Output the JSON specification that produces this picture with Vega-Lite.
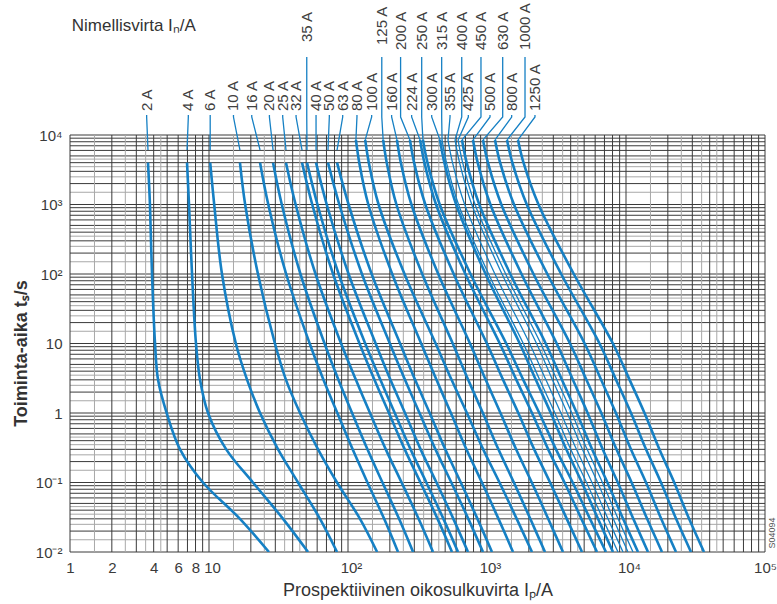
{
  "$schema": "https://vega.github.io/schema/vega-lite/v6.json",
  "width": 695,
  "height": 417,
  "autosize": {"type": "none"},
  "padding": {"left": 70, "top": 135, "right": 12, "bottom": 52},
  "background": "white",
  "config": {"view": {"stroke": null}, "font": "Liberation Sans"},
  "encoding": {
    "x": {
      "field": "I", "type": "quantitative",
      "scale": {"type": "log", "domain": [1, 100000], "nice": false},
      "axis": {
        "values": [1, 2, 4, 6, 8, 10, 100, 1000, 10000, 100000],
        "labelExpr": "datum.value > 50 && datum.value < 200 ? '10²' : datum.value > 500 && datum.value < 2000 ? '10³' : datum.value > 5000 && datum.value < 20000 ? '10⁴' : datum.value > 50000 ? '10⁵' : format(datum.value, 'd')",
        "labelOffset": {"condition": {"test": "datum.value > 9 && datum.value < 50000", "value": 3}, "value": 0},
        "grid": false, "domain": false, "ticks": false,
        "labelFontSize": 15, "labelColor": "#3a3a3a", "labelPadding": 8, "labelFlush": false,
        "title": "Prospektiivinen oikosulkuvirta Iₚ/A", "titleFontSize": 18, "titleFontWeight": "normal", "titleColor": "#333333", "titlePadding": 6
      }
    },
    "y": {
      "field": "t", "type": "quantitative",
      "scale": {"type": "log", "domain": [0.01, 10000], "nice": false},
      "axis": {
        "values": [0.01, 0.1, 1, 10, 100, 1000, 10000],
        "labelExpr": "datum.value < 0.05 ? '10⁻²' : datum.value < 0.5 ? '10⁻¹' : datum.value < 5 ? '1' : datum.value < 50 ? '10' : datum.value < 500 ? '10²' : datum.value < 5000 ? '10³' : '10⁴'",
        "grid": false, "domain": false, "ticks": false,
        "labelFontSize": 15, "labelColor": "#3a3a3a", "labelPadding": 8, "labelFlush": false,
        "title": "Toiminta-aika tₛ/s", "titleFontSize": 18, "titleFontWeight": "bold", "titleColor": "#333333",
        "titleX": -44, "titleY": 218, "titleAlign": "center", "titleBaseline": "alphabetic", "titleAngle": 270
      }
    }
  },
  "datasets": {
    "gx": [
      {"I": 1.5, "k": "b"}, {"I": 2.5, "k": "b"}, {"I": 3.5, "k": "b"}, {"I": 4.5, "k": "b"},
      {"I": 15, "k": "b"}, {"I": 25, "k": "b"}, {"I": 35, "k": "b"}, {"I": 45, "k": "b"},
      {"I": 150, "k": "b"}, {"I": 250, "k": "b"}, {"I": 350, "k": "b"}, {"I": 450, "k": "b"},
      {"I": 1500, "k": "b"}, {"I": 2500, "k": "b"}, {"I": 3500, "k": "b"}, {"I": 4500, "k": "b"},
      {"I": 15000, "k": "b"}, {"I": 25000, "k": "b"}, {"I": 35000, "k": "b"}, {"I": 45000, "k": "b"},
      {"I": 1, "k": "a"}, {"I": 2, "k": "a"}, {"I": 3, "k": "a"}, {"I": 4, "k": "a"}, {"I": 5, "k": "a"}, {"I": 6, "k": "a"}, {"I": 7, "k": "a"}, {"I": 8, "k": "a"}, {"I": 9, "k": "a"},
      {"I": 10, "k": "a"}, {"I": 20, "k": "a"}, {"I": 30, "k": "a"}, {"I": 40, "k": "a"}, {"I": 50, "k": "a"}, {"I": 60, "k": "a"}, {"I": 70, "k": "a"}, {"I": 80, "k": "a"}, {"I": 90, "k": "a"},
      {"I": 100, "k": "a"}, {"I": 200, "k": "a"}, {"I": 300, "k": "a"}, {"I": 400, "k": "a"}, {"I": 500, "k": "a"}, {"I": 600, "k": "a"}, {"I": 700, "k": "a"}, {"I": 800, "k": "a"}, {"I": 900, "k": "a"},
      {"I": 1000, "k": "a"}, {"I": 2000, "k": "a"}, {"I": 3000, "k": "a"}, {"I": 4000, "k": "a"}, {"I": 5000, "k": "a"}, {"I": 6000, "k": "a"}, {"I": 7000, "k": "a"}, {"I": 8000, "k": "a"}, {"I": 9000, "k": "a"},
      {"I": 10000, "k": "a"}, {"I": 20000, "k": "a"}, {"I": 30000, "k": "a"}, {"I": 40000, "k": "a"}, {"I": 50000, "k": "a"}, {"I": 60000, "k": "a"}, {"I": 70000, "k": "a"}, {"I": 80000, "k": "a"}, {"I": 90000, "k": "a"},
      {"I": 100000, "k": "a"}
    ],
    "gy": [
      {"t": 0.015, "k": "b"}, {"t": 0.025, "k": "b"}, {"t": 0.035, "k": "b"}, {"t": 0.045, "k": "b"},
      {"t": 0.15, "k": "b"}, {"t": 0.25, "k": "b"}, {"t": 0.35, "k": "b"}, {"t": 0.45, "k": "b"},
      {"t": 1.5, "k": "b"}, {"t": 2.5, "k": "b"}, {"t": 3.5, "k": "b"}, {"t": 4.5, "k": "b"},
      {"t": 15, "k": "b"}, {"t": 25, "k": "b"}, {"t": 35, "k": "b"}, {"t": 45, "k": "b"},
      {"t": 150, "k": "b"}, {"t": 250, "k": "b"}, {"t": 350, "k": "b"}, {"t": 450, "k": "b"},
      {"t": 1500, "k": "b"}, {"t": 2500, "k": "b"}, {"t": 3500, "k": "b"}, {"t": 4500, "k": "b"},
      {"t": 0.01, "k": "a"}, {"t": 0.02, "k": "a"}, {"t": 0.03, "k": "a"}, {"t": 0.04, "k": "a"}, {"t": 0.05, "k": "a"}, {"t": 0.06, "k": "a"}, {"t": 0.07, "k": "a"}, {"t": 0.08, "k": "a"}, {"t": 0.09, "k": "a"},
      {"t": 0.1, "k": "a"}, {"t": 0.2, "k": "a"}, {"t": 0.3, "k": "a"}, {"t": 0.4, "k": "a"}, {"t": 0.5, "k": "a"}, {"t": 0.6, "k": "a"}, {"t": 0.7, "k": "a"}, {"t": 0.8, "k": "a"}, {"t": 0.9, "k": "a"},
      {"t": 1, "k": "a"}, {"t": 2, "k": "a"}, {"t": 3, "k": "a"}, {"t": 4, "k": "a"}, {"t": 5, "k": "a"}, {"t": 6, "k": "a"}, {"t": 7, "k": "a"}, {"t": 8, "k": "a"}, {"t": 9, "k": "a"},
      {"t": 10, "k": "a"}, {"t": 20, "k": "a"}, {"t": 30, "k": "a"}, {"t": 40, "k": "a"}, {"t": 50, "k": "a"}, {"t": 60, "k": "a"}, {"t": 70, "k": "a"}, {"t": 80, "k": "a"}, {"t": 90, "k": "a"},
      {"t": 100, "k": "a"}, {"t": 200, "k": "a"}, {"t": 300, "k": "a"}, {"t": 400, "k": "a"}, {"t": 500, "k": "a"}, {"t": 600, "k": "a"}, {"t": 700, "k": "a"}, {"t": 800, "k": "a"}, {"t": 900, "k": "a"},
      {"t": 1000, "k": "a"}, {"t": 2000, "k": "a"}, {"t": 3000, "k": "a"}, {"t": 4000, "k": "a"}, {"t": 5000, "k": "a"}, {"t": 6000, "k": "a"}, {"t": 7000, "k": "a"}, {"t": 8000, "k": "a"}, {"t": 9000, "k": "a"},
      {"t": 10000, "k": "a"}
    ],
    "curves": [
      {"r": 2, "t": 4000, "I": 3.64}, {"r": 2, "t": 1000, "I": 3.76}, {"r": 2, "t": 100, "I": 3.89}, {"r": 2, "t": 10, "I": 4.09}, {"r": 2, "t": 3, "I": 4.3}, {"r": 2, "t": 1, "I": 4.96}, {"r": 2, "t": 0.3, "I": 6.19}, {"r": 2, "t": 0.1, "I": 9.05}, {"r": 2, "t": 0.03, "I": 16.7}, {"r": 2, "t": 0.01, "I": 27.0},
      {"r": 4, "t": 4000, "I": 6.95}, {"r": 4, "t": 1000, "I": 7.18}, {"r": 4, "t": 100, "I": 7.55}, {"r": 4, "t": 10, "I": 8.06}, {"r": 4, "t": 3, "I": 8.62}, {"r": 4, "t": 1, "I": 9.84}, {"r": 4, "t": 0.3, "I": 13.3}, {"r": 4, "t": 0.1, "I": 20.7}, {"r": 4, "t": 0.03, "I": 34.1}, {"r": 4, "t": 0.01, "I": 51.6},
      {"r": 6, "t": 4000, "I": 10.2}, {"r": 6, "t": 1000, "I": 10.9}, {"r": 6, "t": 100, "I": 12.4}, {"r": 6, "t": 10, "I": 15.6}, {"r": 6, "t": 3, "I": 18.8}, {"r": 6, "t": 1, "I": 23.3}, {"r": 6, "t": 0.3, "I": 31.4}, {"r": 6, "t": 0.1, "I": 43.7}, {"r": 6, "t": 0.03, "I": 62.9}, {"r": 6, "t": 0.01, "I": 83.4},
      {"r": 10, "t": 4000, "I": 16.7}, {"r": 10, "t": 1000, "I": 18.2}, {"r": 10, "t": 100, "I": 22.5}, {"r": 10, "t": 10, "I": 29.8}, {"r": 10, "t": 3, "I": 35.8}, {"r": 10, "t": 1, "I": 45.2}, {"r": 10, "t": 0.3, "I": 60.9}, {"r": 10, "t": 0.1, "I": 83.4}, {"r": 10, "t": 0.03, "I": 122}, {"r": 10, "t": 0.01, "I": 162},
      {"r": 16, "t": 4000, "I": 23.3}, {"r": 16, "t": 1000, "I": 26.7}, {"r": 16, "t": 100, "I": 35.9}, {"r": 16, "t": 10, "I": 53.0}, {"r": 16, "t": 3, "I": 66.6}, {"r": 16, "t": 1, "I": 83.8}, {"r": 16, "t": 0.3, "I": 108}, {"r": 16, "t": 0.1, "I": 138}, {"r": 16, "t": 0.03, "I": 182}, {"r": 16, "t": 0.01, "I": 229},
      {"r": 20, "t": 4000, "I": 28.9}, {"r": 20, "t": 1000, "I": 33.4}, {"r": 20, "t": 100, "I": 45.5}, {"r": 20, "t": 10, "I": 67.8}, {"r": 20, "t": 3, "I": 85.3}, {"r": 20, "t": 1, "I": 107}, {"r": 20, "t": 0.3, "I": 138}, {"r": 20, "t": 0.1, "I": 177}, {"r": 20, "t": 0.03, "I": 233}, {"r": 20, "t": 0.01, "I": 294},
      {"r": 25, "t": 4000, "I": 35.8}, {"r": 25, "t": 1000, "I": 42.0}, {"r": 25, "t": 100, "I": 58.4}, {"r": 25, "t": 10, "I": 89.2}, {"r": 25, "t": 3, "I": 114}, {"r": 25, "t": 1, "I": 144}, {"r": 25, "t": 0.3, "I": 187}, {"r": 25, "t": 0.1, "I": 243}, {"r": 25, "t": 0.03, "I": 322}, {"r": 25, "t": 0.01, "I": 409},
      {"r": 32, "t": 4000, "I": 46.7}, {"r": 32, "t": 1000, "I": 55.3}, {"r": 32, "t": 100, "I": 78.1}, {"r": 32, "t": 10, "I": 121}, {"r": 32, "t": 3, "I": 155}, {"r": 32, "t": 1, "I": 197}, {"r": 32, "t": 0.3, "I": 256}, {"r": 32, "t": 0.1, "I": 332}, {"r": 32, "t": 0.03, "I": 441}, {"r": 32, "t": 0.01, "I": 560},
      {"r": 35, "t": 4000, "I": 50.7}, {"r": 35, "t": 1000, "I": 60.3}, {"r": 35, "t": 100, "I": 85.7}, {"r": 35, "t": 10, "I": 133}, {"r": 35, "t": 3, "I": 171}, {"r": 35, "t": 1, "I": 217}, {"r": 35, "t": 0.3, "I": 282}, {"r": 35, "t": 0.1, "I": 366}, {"r": 35, "t": 0.03, "I": 486}, {"r": 35, "t": 0.01, "I": 619},
      {"r": 40, "t": 4000, "I": 58.9}, {"r": 40, "t": 1000, "I": 70.3}, {"r": 40, "t": 100, "I": 101}, {"r": 40, "t": 10, "I": 158}, {"r": 40, "t": 3, "I": 202}, {"r": 40, "t": 1, "I": 257}, {"r": 40, "t": 0.3, "I": 333}, {"r": 40, "t": 0.1, "I": 433}, {"r": 40, "t": 0.03, "I": 573}, {"r": 40, "t": 0.01, "I": 730},
      {"r": 50, "t": 4000, "I": 71.8}, {"r": 50, "t": 1000, "I": 86.6}, {"r": 50, "t": 100, "I": 126}, {"r": 50, "t": 10, "I": 200}, {"r": 50, "t": 3, "I": 257}, {"r": 50, "t": 1, "I": 327}, {"r": 50, "t": 0.3, "I": 426}, {"r": 50, "t": 0.1, "I": 554}, {"r": 50, "t": 0.03, "I": 734}, {"r": 50, "t": 0.01, "I": 936},
      {"r": 63, "t": 4000, "I": 83.4}, {"r": 63, "t": 1000, "I": 101}, {"r": 63, "t": 100, "I": 148}, {"r": 63, "t": 10, "I": 237}, {"r": 63, "t": 3, "I": 304}, {"r": 63, "t": 1, "I": 387}, {"r": 63, "t": 0.3, "I": 501}, {"r": 63, "t": 0.1, "I": 648}, {"r": 63, "t": 0.03, "I": 854}, {"r": 63, "t": 0.01, "I": 1086},
      {"r": 80, "t": 8500, "I": 114}, {"r": 80, "t": 4000, "I": 120.5}, {"r": 80, "t": 1000, "I": 140}, {"r": 80, "t": 100, "I": 208}, {"r": 80, "t": 10, "I": 336}, {"r": 80, "t": 3, "I": 433}, {"r": 80, "t": 1, "I": 550}, {"r": 80, "t": 0.3, "I": 711}, {"r": 80, "t": 0.1, "I": 919}, {"r": 80, "t": 0.03, "I": 1210}, {"r": 80, "t": 0.01, "I": 1539},
      {"r": 100, "t": 8500, "I": 133}, {"r": 100, "t": 4000, "I": 141.2}, {"r": 100, "t": 1000, "I": 166}, {"r": 100, "t": 100, "I": 255}, {"r": 100, "t": 10, "I": 427}, {"r": 100, "t": 3, "I": 556}, {"r": 100, "t": 1, "I": 717}, {"r": 100, "t": 0.3, "I": 939}, {"r": 100, "t": 0.1, "I": 1230}, {"r": 100, "t": 0.03, "I": 1636}, {"r": 100, "t": 0.01, "I": 2107},
      {"r": 125, "t": 8500, "I": 179}, {"r": 125, "t": 4000, "I": 190.0}, {"r": 125, "t": 1000, "I": 223}, {"r": 125, "t": 100, "I": 342}, {"r": 125, "t": 10, "I": 567}, {"r": 125, "t": 3, "I": 732}, {"r": 125, "t": 1, "I": 934}, {"r": 125, "t": 0.3, "I": 1208}, {"r": 125, "t": 0.1, "I": 1561}, {"r": 125, "t": 0.03, "I": 2048}, {"r": 125, "t": 0.01, "I": 2614},
      {"r": 160, "t": 8500, "I": 225}, {"r": 160, "t": 4000, "I": 240.0}, {"r": 160, "t": 1000, "I": 286}, {"r": 160, "t": 100, "I": 446}, {"r": 160, "t": 10, "I": 755}, {"r": 160, "t": 3, "I": 979}, {"r": 160, "t": 1, "I": 1250}, {"r": 160, "t": 0.3, "I": 1620}, {"r": 160, "t": 0.1, "I": 2100}, {"r": 160, "t": 0.03, "I": 2756}, {"r": 160, "t": 0.01, "I": 3522},
      {"r": 200, "t": 8500, "I": 279}, {"r": 200, "t": 4000, "I": 298.9}, {"r": 200, "t": 1000, "I": 360}, {"r": 200, "t": 100, "I": 576}, {"r": 200, "t": 10, "I": 998}, {"r": 200, "t": 3, "I": 1306}, {"r": 200, "t": 1, "I": 1680}, {"r": 200, "t": 0.3, "I": 2186}, {"r": 200, "t": 0.1, "I": 2844}, {"r": 200, "t": 0.03, "I": 3750}, {"r": 200, "t": 0.01, "I": 4825},
      {"r": 224, "t": 8500, "I": 330}, {"r": 224, "t": 4000, "I": 354.5}, {"r": 224, "t": 1000, "I": 430}, {"r": 224, "t": 100, "I": 699}, {"r": 224, "t": 10, "I": 1236}, {"r": 224, "t": 3, "I": 1627}, {"r": 224, "t": 1, "I": 2107}, {"r": 224, "t": 0.3, "I": 2756}, {"r": 224, "t": 0.1, "I": 3611}, {"r": 224, "t": 0.03, "I": 4777}, {"r": 224, "t": 0.01, "I": 6185},
      {"r": 250, "t": 8500, "I": 346}, {"r": 250, "t": 4000, "I": 373.0}, {"r": 250, "t": 1000, "I": 457}, {"r": 250, "t": 100, "I": 761}, {"r": 250, "t": 10, "I": 1375}, {"r": 250, "t": 3, "I": 1824}, {"r": 250, "t": 1, "I": 2379}, {"r": 250, "t": 0.3, "I": 3136}, {"r": 250, "t": 0.1, "I": 4135}, {"r": 250, "t": 0.03, "I": 5508}, {"r": 250, "t": 0.01, "I": 7179},
      {"r": 300, "t": 8500, "I": 459}, {"r": 300, "t": 4000, "I": 493.4}, {"r": 300, "t": 1000, "I": 600}, {"r": 300, "t": 100, "I": 977}, {"r": 300, "t": 10, "I": 1719}, {"r": 300, "t": 3, "I": 2245}, {"r": 300, "t": 1, "I": 2877}, {"r": 300, "t": 0.3, "I": 3719}, {"r": 300, "t": 0.1, "I": 4816}, {"r": 300, "t": 0.03, "I": 6290}, {"r": 300, "t": 0.01, "I": 8063},
      {"r": 315, "t": 8500, "I": 475}, {"r": 315, "t": 4000, "I": 511.1}, {"r": 315, "t": 1000, "I": 624}, {"r": 315, "t": 100, "I": 1027}, {"r": 315, "t": 10, "I": 1824}, {"r": 315, "t": 3, "I": 2394}, {"r": 315, "t": 1, "I": 3080}, {"r": 315, "t": 0.3, "I": 4001}, {"r": 315, "t": 0.1, "I": 5198}, {"r": 315, "t": 0.03, "I": 6810}, {"r": 315, "t": 0.01, "I": 8758},
      {"r": 355, "t": 8500, "I": 524}, {"r": 355, "t": 4000, "I": 564.7}, {"r": 355, "t": 1000, "I": 691}, {"r": 355, "t": 100, "I": 1140}, {"r": 355, "t": 10, "I": 2025}, {"r": 355, "t": 3, "I": 2653}, {"r": 355, "t": 1, "I": 3402}, {"r": 355, "t": 0.3, "I": 4398}, {"r": 355, "t": 0.1, "I": 5693}, {"r": 355, "t": 0.03, "I": 7421}, {"r": 355, "t": 0.01, "I": 9516},
      {"r": 400, "t": 8500, "I": 589}, {"r": 400, "t": 4000, "I": 634.7}, {"r": 400, "t": 1000, "I": 777}, {"r": 400, "t": 100, "I": 1282}, {"r": 400, "t": 10, "I": 2271}, {"r": 400, "t": 3, "I": 2959}, {"r": 400, "t": 1, "I": 3776}, {"r": 400, "t": 0.3, "I": 4857}, {"r": 400, "t": 0.1, "I": 6248}, {"r": 400, "t": 0.03, "I": 8102}, {"r": 400, "t": 0.01, "I": 10337},
      {"r": 425, "t": 8500, "I": 619}, {"r": 425, "t": 4000, "I": 668.0}, {"r": 425, "t": 1000, "I": 821}, {"r": 425, "t": 100, "I": 1363}, {"r": 425, "t": 10, "I": 2434}, {"r": 425, "t": 3, "I": 3183}, {"r": 425, "t": 1, "I": 4075}, {"r": 425, "t": 0.3, "I": 5250}, {"r": 425, "t": 0.1, "I": 6764}, {"r": 425, "t": 0.03, "I": 8775}, {"r": 425, "t": 0.01, "I": 11231},
      {"r": 450, "t": 8500, "I": 661}, {"r": 450, "t": 4000, "I": 714.3}, {"r": 450, "t": 1000, "I": 880}, {"r": 450, "t": 100, "I": 1471}, {"r": 450, "t": 10, "I": 2644}, {"r": 450, "t": 3, "I": 3458}, {"r": 450, "t": 1, "I": 4426}, {"r": 450, "t": 0.3, "I": 5702}, {"r": 450, "t": 0.1, "I": 7348}, {"r": 450, "t": 0.03, "I": 9531}, {"r": 450, "t": 0.01, "I": 12199},
      {"r": 500, "t": 8500, "I": 793}, {"r": 500, "t": 4000, "I": 857.3}, {"r": 500, "t": 1000, "I": 1058}, {"r": 500, "t": 100, "I": 1771}, {"r": 500, "t": 10, "I": 3172}, {"r": 500, "t": 3, "I": 4149}, {"r": 500, "t": 1, "I": 5293}, {"r": 500, "t": 0.3, "I": 6799}, {"r": 500, "t": 0.1, "I": 8730}, {"r": 500, "t": 0.03, "I": 11286}, {"r": 500, "t": 0.01, "I": 14397},
      {"r": 630, "t": 8500, "I": 936}, {"r": 630, "t": 4000, "I": 1016}, {"r": 630, "t": 1000, "I": 1268}, {"r": 630, "t": 100, "I": 2160}, {"r": 630, "t": 10, "I": 3954}, {"r": 630, "t": 3, "I": 5189}, {"r": 630, "t": 1, "I": 6642}, {"r": 630, "t": 0.3, "I": 8544}, {"r": 630, "t": 0.1, "I": 10972}, {"r": 630, "t": 0.03, "I": 14189}, {"r": 630, "t": 0.01, "I": 18152},
      {"r": 800, "t": 8500, "I": 1142}, {"r": 800, "t": 4000, "I": 1243}, {"r": 800, "t": 1000, "I": 1564}, {"r": 800, "t": 100, "I": 2715}, {"r": 800, "t": 10, "I": 5038}, {"r": 800, "t": 3, "I": 6621}, {"r": 800, "t": 1, "I": 8459}, {"r": 800, "t": 0.3, "I": 10846}, {"r": 800, "t": 0.1, "I": 13934}, {"r": 800, "t": 0.03, "I": 17912}, {"r": 800, "t": 0.01, "I": 22896},
      {"r": 1000, "t": 8500, "I": 1393}, {"r": 1000, "t": 4000, "I": 1522}, {"r": 1000, "t": 1000, "I": 1933}, {"r": 1000, "t": 100, "I": 3418}, {"r": 1000, "t": 10, "I": 6448}, {"r": 1000, "t": 3, "I": 8488}, {"r": 1000, "t": 1, "I": 10864}, {"r": 1000, "t": 0.3, "I": 13934}, {"r": 1000, "t": 0.1, "I": 17855}, {"r": 1000, "t": 0.03, "I": 22932}, {"r": 1000, "t": 0.01, "I": 29347},
      {"r": 1250, "t": 8500, "I": 1671}, {"r": 1250, "t": 4000, "I": 1831}, {"r": 1250, "t": 1000, "I": 2347}, {"r": 1250, "t": 100, "I": 4212}, {"r": 1250, "t": 10, "I": 8049}, {"r": 1250, "t": 3, "I": 10615}, {"r": 1250, "t": 1, "I": 13587}, {"r": 1250, "t": 0.3, "I": 17387}, {"r": 1250, "t": 0.1, "I": 22227}, {"r": 1250, "t": 0.03, "I": 28442}, {"r": 1250, "t": 0.01, "I": 36410}
    ],
    "labels": [
      {"lab": "2 A", "I": 3.56, "t": 22100}, {"lab": "4 A", "I": 7.1, "t": 22100}, {"lab": "6 A", "I": 10.2, "t": 22100},
      {"lab": "10 A", "I": 15.0, "t": 22100}, {"lab": "16 A", "I": 20.3, "t": 22100}, {"lab": "20 A", "I": 27.2, "t": 22100},
      {"lab": "25 A", "I": 33.9, "t": 22100}, {"lab": "32 A", "I": 42.3, "t": 22100}, {"lab": "40 A", "I": 58.9, "t": 22100},
      {"lab": "50 A", "I": 73.4, "t": 22100}, {"lab": "63 A", "I": 91.6, "t": 22100}, {"lab": "80 A", "I": 116, "t": 22100},
      {"lab": "100 A", "I": 148, "t": 22100}, {"lab": "160 A", "I": 206, "t": 22100}, {"lab": "224 A", "I": 287, "t": 22100},
      {"lab": "300 A", "I": 400, "t": 22100}, {"lab": "355 A", "I": 542, "t": 22100}, {"lab": "425 A", "I": 734, "t": 22100},
      {"lab": "500 A", "I": 1051, "t": 22100}, {"lab": "800 A", "I": 1505, "t": 22100}, {"lab": "1250 A", "I": 2214, "t": 22100},
      {"lab": "35 A", "I": 50.5, "t": 218000}, {"lab": "125 A", "I": 175, "t": 197000}, {"lab": "200 A", "I": 239, "t": 167000},
      {"lab": "250 A", "I": 339, "t": 167000}, {"lab": "315 A", "I": 472, "t": 167000}, {"lab": "400 A", "I": 658, "t": 167000},
      {"lab": "450 A", "I": 905, "t": 167000}, {"lab": "630 A", "I": 1297, "t": 167000}, {"lab": "1000 A", "I": 1877, "t": 167000}
    ],
    "leaders": [
      {"r": 2, "s": 0, "I": 3.56, "t": 19400}, {"r": 2, "s": 1, "I": 3.56, "t": 18150}, {"r": 2, "s": 2, "I": 3.64, "t": 6080},
      {"r": 4, "s": 0, "I": 7.1, "t": 19400}, {"r": 4, "s": 1, "I": 7.1, "t": 18150}, {"r": 4, "s": 2, "I": 6.95, "t": 6080},
      {"r": 6, "s": 0, "I": 10.2, "t": 19400}, {"r": 6, "s": 1, "I": 10.2, "t": 18150}, {"r": 6, "s": 2, "I": 10.2, "t": 6080},
      {"r": 10, "s": 0, "I": 15.0, "t": 19400}, {"r": 10, "s": 1, "I": 15.0, "t": 18150}, {"r": 10, "s": 2, "I": 16.7, "t": 6080},
      {"r": 16, "s": 0, "I": 20.3, "t": 19400}, {"r": 16, "s": 1, "I": 20.3, "t": 18150}, {"r": 16, "s": 2, "I": 23.3, "t": 6080},
      {"r": 20, "s": 0, "I": 27.2, "t": 19400}, {"r": 20, "s": 1, "I": 27.2, "t": 18150}, {"r": 20, "s": 2, "I": 28.9, "t": 6080},
      {"r": 25, "s": 0, "I": 33.9, "t": 19400}, {"r": 25, "s": 1, "I": 33.9, "t": 18150}, {"r": 25, "s": 2, "I": 35.8, "t": 6080},
      {"r": 32, "s": 0, "I": 42.3, "t": 19400}, {"r": 32, "s": 1, "I": 42.3, "t": 18150}, {"r": 32, "s": 2, "I": 46.7, "t": 6080},
      {"r": 35, "s": 0, "I": 50.5, "t": 132600}, {"r": 35, "s": 1, "I": 50.5, "t": 18150}, {"r": 35, "s": 2, "I": 50.7, "t": 6080},
      {"r": 40, "s": 0, "I": 58.9, "t": 19400}, {"r": 40, "s": 1, "I": 58.9, "t": 18150}, {"r": 40, "s": 2, "I": 58.9, "t": 6080},
      {"r": 50, "s": 0, "I": 73.4, "t": 19400}, {"r": 50, "s": 1, "I": 73.4, "t": 18150}, {"r": 50, "s": 2, "I": 71.8, "t": 6080},
      {"r": 63, "s": 0, "I": 91.6, "t": 19400}, {"r": 63, "s": 1, "I": 91.6, "t": 18150}, {"r": 63, "s": 2, "I": 83.4, "t": 6080},
      {"r": 80, "s": 0, "I": 116, "t": 19400}, {"r": 80, "s": 1, "I": 116, "t": 18150}, {"r": 80, "s": 2, "I": 114, "t": 8500},
      {"r": 100, "s": 0, "I": 148, "t": 19400}, {"r": 100, "s": 1, "I": 148, "t": 18150}, {"r": 100, "s": 2, "I": 133, "t": 8500},
      {"r": 125, "s": 0, "I": 175, "t": 132600}, {"r": 125, "s": 1, "I": 175, "t": 18150}, {"r": 125, "s": 2, "I": 179, "t": 8500},
      {"r": 160, "s": 0, "I": 206, "t": 19400}, {"r": 160, "s": 1, "I": 206, "t": 18150}, {"r": 160, "s": 2, "I": 225, "t": 8500},
      {"r": 200, "s": 0, "I": 239, "t": 132600}, {"r": 200, "s": 1, "I": 239, "t": 18150}, {"r": 200, "s": 2, "I": 279, "t": 8500},
      {"r": 224, "s": 0, "I": 287, "t": 19400}, {"r": 224, "s": 1, "I": 287, "t": 18150}, {"r": 224, "s": 2, "I": 330, "t": 8500},
      {"r": 250, "s": 0, "I": 339, "t": 132600}, {"r": 250, "s": 1, "I": 339, "t": 18150}, {"r": 250, "s": 2, "I": 346, "t": 8500},
      {"r": 300, "s": 0, "I": 400, "t": 19400}, {"r": 300, "s": 1, "I": 400, "t": 18150}, {"r": 300, "s": 2, "I": 459, "t": 8500},
      {"r": 315, "s": 0, "I": 472, "t": 132600}, {"r": 315, "s": 1, "I": 472, "t": 18150}, {"r": 315, "s": 2, "I": 475, "t": 8500},
      {"r": 355, "s": 0, "I": 542, "t": 19400}, {"r": 355, "s": 1, "I": 542, "t": 18150}, {"r": 355, "s": 2, "I": 524, "t": 8500},
      {"r": 400, "s": 0, "I": 658, "t": 132600}, {"r": 400, "s": 1, "I": 658, "t": 18150}, {"r": 400, "s": 2, "I": 589, "t": 8500},
      {"r": 425, "s": 0, "I": 734, "t": 19400}, {"r": 425, "s": 1, "I": 734, "t": 18150}, {"r": 425, "s": 2, "I": 619, "t": 8500},
      {"r": 450, "s": 0, "I": 905, "t": 132600}, {"r": 450, "s": 1, "I": 905, "t": 18150}, {"r": 450, "s": 2, "I": 661, "t": 8500},
      {"r": 500, "s": 0, "I": 1051, "t": 19400}, {"r": 500, "s": 1, "I": 1051, "t": 18150}, {"r": 500, "s": 2, "I": 793, "t": 8500},
      {"r": 630, "s": 0, "I": 1297, "t": 132600}, {"r": 630, "s": 1, "I": 1297, "t": 18150}, {"r": 630, "s": 2, "I": 936, "t": 8500},
      {"r": 800, "s": 0, "I": 1505, "t": 19400}, {"r": 800, "s": 1, "I": 1505, "t": 18150}, {"r": 800, "s": 2, "I": 1142, "t": 8500},
      {"r": 1000, "s": 0, "I": 1877, "t": 132600}, {"r": 1000, "s": 1, "I": 1877, "t": 18150}, {"r": 1000, "s": 2, "I": 1393, "t": 8500},
      {"r": 1250, "s": 0, "I": 2214, "t": 19400}, {"r": 1250, "s": 1, "I": 2214, "t": 18150}, {"r": 1250, "s": 2, "I": 1671, "t": 8500}
    ],
    "notes": [
      {"txt": "Nimellisvirta Iₙ/A", "I": 1.03, "t": 370000}
    ],
    "code": [
      {"txt": "S04094", "I": 112000, "t": 0.0188}
    ]
  },
  "layer": [
    {
      "data": {"name": "gy"},
      "mark": {"type": "rule", "strokeWidth": 1},
      "encoding": {
        "x": null,
        "color": {"field": "k", "type": "nominal", "scale": {"domain": ["a", "b"], "range": ["#3a3a3a", "#a8a8a8"]}, "legend": null}
      }
    },
    {
      "data": {"name": "gx"},
      "mark": {"type": "rule", "strokeWidth": 1},
      "encoding": {
        "y": null,
        "color": {"field": "k", "type": "nominal", "scale": {"domain": ["a", "b"], "range": ["#3a3a3a", "#a8a8a8"]}, "legend": null}
      }
    },
    {
      "data": {"name": "curves"},
      "mark": {"type": "line", "interpolate": "catmull-rom", "color": "#1680c4", "clip": true},
      "encoding": {
        "detail": {"field": "r", "type": "nominal"},
        "strokeWidth": {"condition": {"test": "indexof([315, 355, 400, 425], datum.r) >= 0", "value": 1.3}, "value": 2.6}
      }
    },
    {
      "data": {"name": "leaders"},
      "mark": {"type": "line", "color": "#1680c4", "strokeWidth": 1.3, "clip": false},
      "encoding": {
        "detail": {"field": "r", "type": "nominal"},
        "order": {"field": "s", "type": "quantitative"}
      }
    },
    {
      "data": {"name": "labels"},
      "mark": {"type": "text", "angle": -90, "align": "left", "baseline": "middle", "fontSize": 15, "color": "#404040", "clip": false},
      "encoding": {
        "text": {"field": "lab", "type": "nominal"}
      }
    },
    {
      "data": {"name": "notes"},
      "mark": {"type": "text", "align": "left", "baseline": "middle", "fontSize": 17, "color": "#333333", "clip": false},
      "encoding": {
        "text": {"field": "txt", "type": "nominal"}
      }
    },
    {
      "data": {"name": "code"},
      "mark": {"type": "text", "angle": -90, "align": "center", "baseline": "middle", "fontSize": 9, "color": "#555555", "clip": false},
      "encoding": {
        "text": {"field": "txt", "type": "nominal"}
      }
    }
  ]
}
